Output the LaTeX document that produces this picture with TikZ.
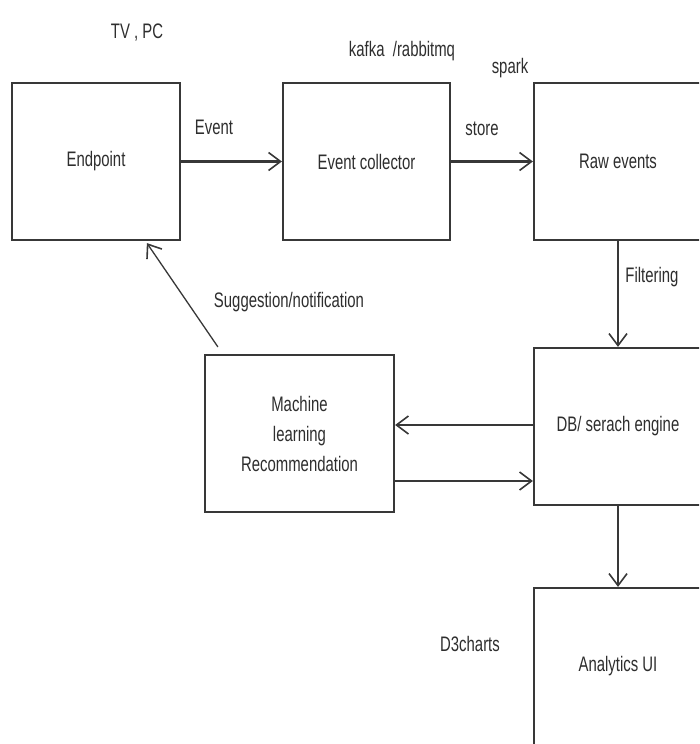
\documentclass[tikz,border=0pt]{standalone}
\usepackage{fontspec}
\setmainfont{Liberation Sans}[FakeStretch=0.71]
\usetikzlibrary{arrows.meta}
\definecolor{ln}{HTML}{383838}
\definecolor{tx}{HTML}{2E2E2E}
\begin{document}
\begin{tikzpicture}[x=1pt,y=-1pt,
  txt/.style={font=\fontsize{21}{30}\selectfont, text=tx},
  box/.style={txt, draw=ln, line width=2.2pt, minimum height=157pt, align=center, inner sep=0pt},
  lbl/.style={txt, inner sep=0pt},
  arr/.style={draw=ln, line width=2.2pt, -{Straight Barb[length=12pt,width=18pt,line width=1.6pt]}}]
\useasboundingbox (0,0) rectangle (699,744);
\clip (0,0) rectangle (699,744);
\fill[white] (0,0) rectangle (699,744);

\node[box, minimum width=168pt] (ep) at (96,161.5) {Endpoint};
\node[box, minimum width=167pt] (ec) at (366.5,161.5) {Event collector};
\node[box, minimum width=168pt] (raw) at (618,161.5) {Raw events};
\node[box, minimum width=168pt] (db) at (618,426.5) {DB/ serach engine};
\node[box, minimum width=189pt] (ml) at (299.5,433.5) {Machine\\learning\\Recommendation};
\node[box, minimum width=168pt] (ui) at (618,666.5) {Analytics UI};

\draw[arr] (ep.east) -- (ec.west);
\draw[arr] (ec.east) -- (raw.west);
\draw[arr] (raw.south) -- (db.north);
\draw[arr] ([yshift=1.5pt]db.west) -- ([yshift=1.5pt]db.west -| ml.east);
\draw[arr] ([yshift=-47.5pt]ml.east) -- ([yshift=-47.5pt]ml.east -| db.west);
\draw[arr] (db.south) -- (ui.north);
\draw[arr, line width=1.3pt] ([xshift=14pt,yshift=7pt]ml.north west) -- ([xshift=136pt,yshift=-2pt]ep.south west);

\node[lbl] (tvpc) at (137,33) {TV , PC};
\node[lbl] (kafka) at (402,51) {kafka\ \ /rabbitmq};
\node[lbl] (spark) at (510,68) {spark};
\node[lbl] (evt) at (214,127) {Event};
\node[lbl] (store) at (482,129) {store};
\node[lbl] (filt) at (652,277) {Filtering};
\node[lbl] (sugg) at (289,302) {Suggestion/notification};
\node[lbl] (d3) at (470,644) {D3charts};
\end{tikzpicture}
\end{document}
